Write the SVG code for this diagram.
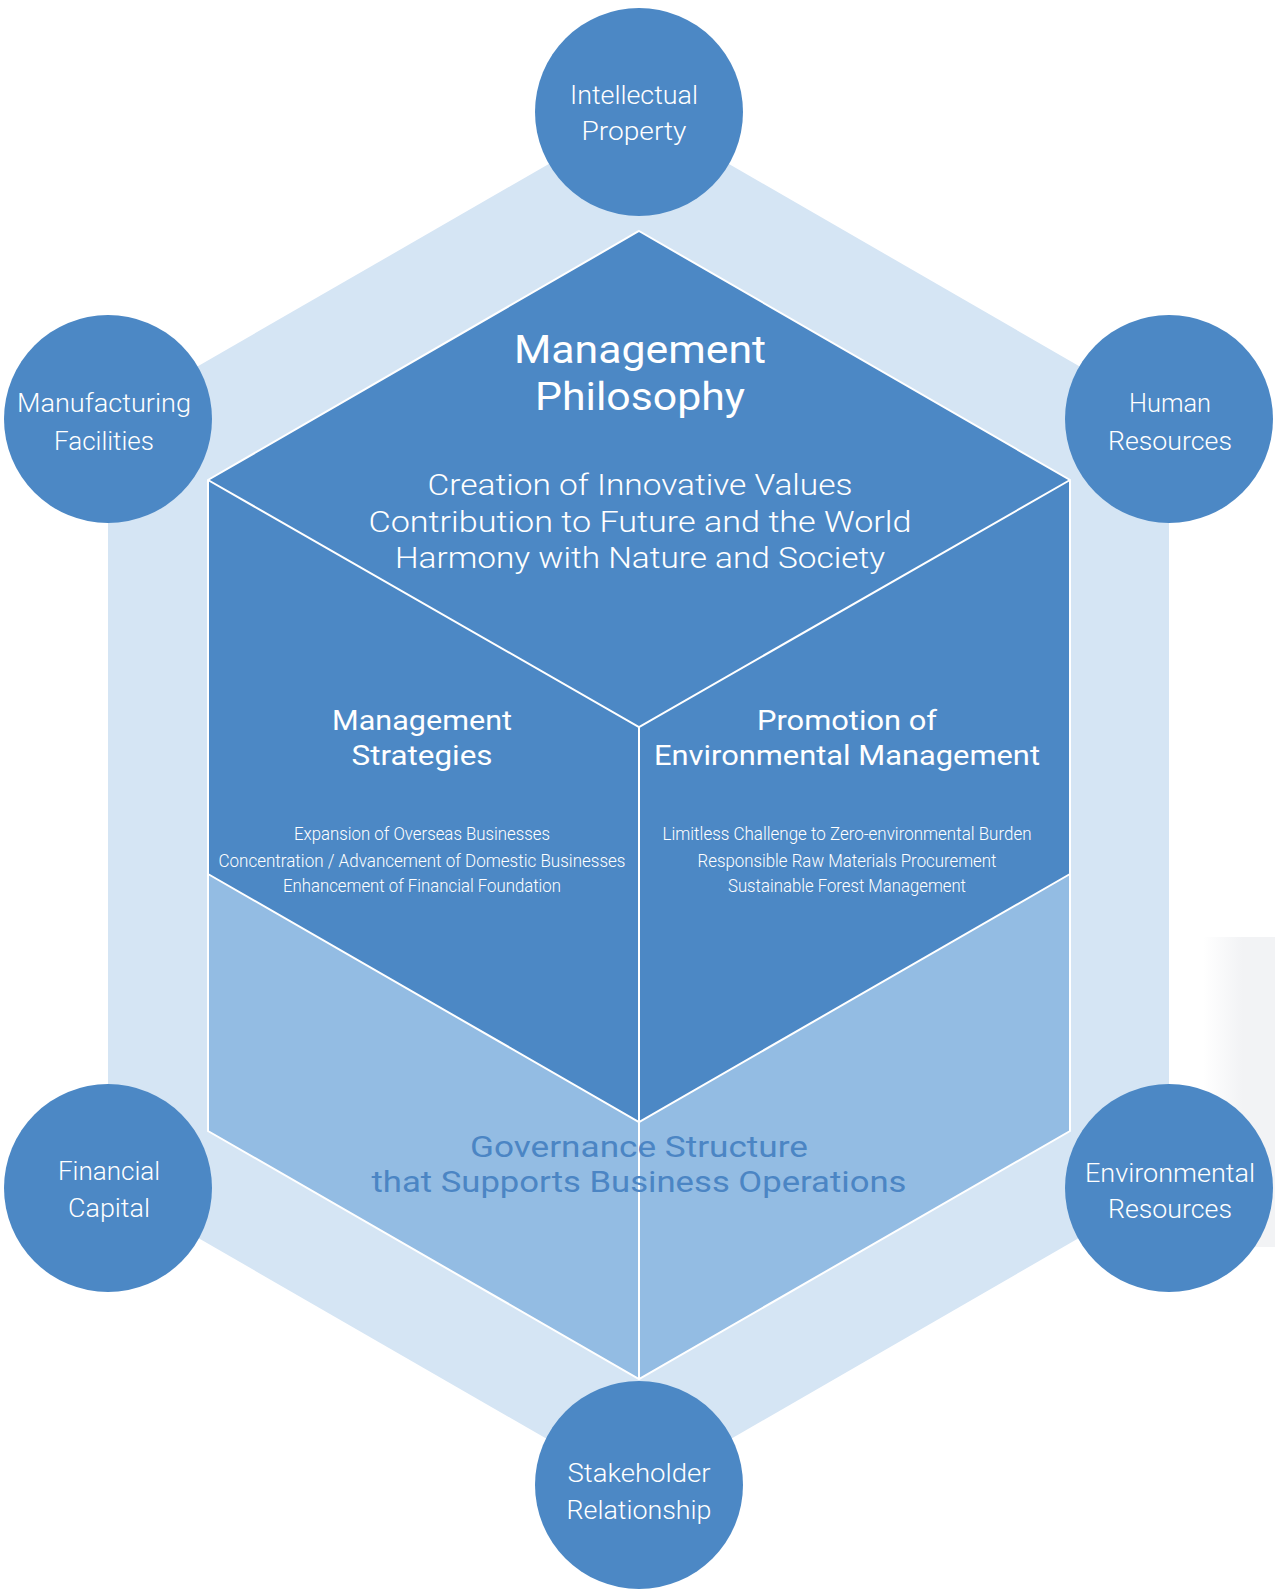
<svg xmlns="http://www.w3.org/2000/svg" width="1275" height="1591" viewBox="0 0 1275 1591">
<defs>
<linearGradient id="grayfade" x1="0" y1="0" x2="1" y2="0">
<stop offset="0" stop-color="#ffffff"/>
<stop offset="0.55" stop-color="#f2f3f5"/>
<stop offset="1" stop-color="#f2f3f5"/>
</linearGradient>
<style>
text{font-family:Roboto,"Noto Sans","Liberation Sans",sans-serif;fill:#ffffff;text-anchor:middle;font-weight:300}
.cap{font-size:26px}
.title{font-size:39px;font-weight:400}
.phil{font-size:30px}
.head{font-size:28px;font-weight:400}
.sub{font-size:19px}
.gov{font-size:29px;fill:#4b85c4;font-weight:400}
.node{fill:#4c88c5}
.wl{stroke:#ffffff;stroke-width:2;fill:none;stroke-linejoin:miter}
</style>
</defs>
<rect width="1275" height="1591" fill="#ffffff"/>
<rect x="1203" y="937" width="72" height="310" fill="url(#grayfade)"/>
<polygon points="639,112 1169,418 1169,1186 639,1492 108,1186 108,418" fill="#d5e5f4"/>
<g id="cube">
<polygon points="639,231 1070,480 1070,874 639,1122 208,874 208,480" fill="#4c88c5"/>
<polygon points="208,874 639,1122 1070,874 1070,1131 639,1379 208,1131" fill="#93bce3"/>
</g>
<g id="edges">
<polygon class="wl" points="639,231 1070,480 1070,1131 639,1379 208,1131 208,480"/>
<polyline class="wl" points="208,480 639,727 1070,480"/>
<line class="wl" x1="639" y1="727" x2="639" y2="1379"/>
<polyline class="wl" points="208,874 639,1122 1070,874"/>
</g>
<g id="philosophy">
<text class="title" x="640" y="363" textLength="252" lengthAdjust="spacingAndGlyphs">Management</text>
<text class="title" x="640" y="410" textLength="210" lengthAdjust="spacingAndGlyphs">Philosophy</text>
<text class="phil" x="640" y="495" textLength="425" lengthAdjust="spacingAndGlyphs">Creation of Innovative Values</text>
<text class="phil" x="640" y="532" textLength="543" lengthAdjust="spacingAndGlyphs">Contribution to Future and the World</text>
<text class="phil" x="640" y="568" textLength="490" lengthAdjust="spacingAndGlyphs">Harmony with Nature and Society</text>
</g>
<g id="strategies">
<text class="head" x="422" y="730" textLength="180" lengthAdjust="spacingAndGlyphs">Management</text>
<text class="head" x="422" y="765" textLength="141" lengthAdjust="spacingAndGlyphs">Strategies</text>
<text class="sub" x="422" y="840" textLength="256" lengthAdjust="spacingAndGlyphs">Expansion of Overseas Businesses</text>
<text class="sub" x="422" y="867" textLength="407" lengthAdjust="spacingAndGlyphs">Concentration / Advancement of Domestic Businesses</text>
<text class="sub" x="422" y="892" textLength="278" lengthAdjust="spacingAndGlyphs">Enhancement of Financial Foundation</text>
</g>
<g id="environmental">
<text class="head" x="847" y="730" textLength="180" lengthAdjust="spacingAndGlyphs">Promotion of</text>
<text class="head" x="847" y="765" textLength="386" lengthAdjust="spacingAndGlyphs">Environmental Management</text>
<text class="sub" x="847" y="840" textLength="369" lengthAdjust="spacingAndGlyphs">Limitless Challenge to Zero-environmental Burden</text>
<text class="sub" x="847" y="867" textLength="299" lengthAdjust="spacingAndGlyphs">Responsible Raw Materials Procurement</text>
<text class="sub" x="847" y="892" textLength="238" lengthAdjust="spacingAndGlyphs">Sustainable Forest Management</text>
</g>
<g id="governance">
<text class="gov" x="639" y="1157" textLength="338" lengthAdjust="spacingAndGlyphs">Governance Structure</text>
<text class="gov" x="639" y="1192" textLength="535" lengthAdjust="spacingAndGlyphs">that Supports Business Operations</text>
</g>
<g id="intellectual-property">
<circle class="node" cx="639" cy="112" r="104"/>
<text class="cap" x="634" y="104" textLength="128" lengthAdjust="spacingAndGlyphs">Intellectual</text>
<text class="cap" x="634" y="140" textLength="105" lengthAdjust="spacingAndGlyphs">Property</text>
</g>
<g id="human-resources">
<circle class="node" cx="1169" cy="419" r="104"/>
<text class="cap" x="1170" y="412" textLength="82" lengthAdjust="spacingAndGlyphs">Human</text>
<text class="cap" x="1170" y="450" textLength="124" lengthAdjust="spacingAndGlyphs">Resources</text>
</g>
<g id="environmental-resources">
<circle class="node" cx="1169" cy="1188" r="104"/>
<text class="cap" x="1170" y="1182" textLength="170" lengthAdjust="spacingAndGlyphs">Environmental</text>
<text class="cap" x="1170" y="1218" textLength="124" lengthAdjust="spacingAndGlyphs">Resources</text>
</g>
<g id="stakeholder-relationship">
<circle class="node" cx="639" cy="1485" r="104"/>
<text class="cap" x="639" y="1482" textLength="143" lengthAdjust="spacingAndGlyphs">Stakeholder</text>
<text class="cap" x="639" y="1519" textLength="145" lengthAdjust="spacingAndGlyphs">Relationship</text>
</g>
<g id="financial-capital">
<circle class="node" cx="108" cy="1188" r="104"/>
<text class="cap" x="109" y="1180" textLength="102" lengthAdjust="spacingAndGlyphs">Financial</text>
<text class="cap" x="109" y="1217" textLength="82" lengthAdjust="spacingAndGlyphs">Capital</text>
</g>
<g id="manufacturing-facilities">
<circle class="node" cx="108" cy="419" r="104"/>
<text class="cap" x="104" y="412" textLength="174" lengthAdjust="spacingAndGlyphs">Manufacturing</text>
<text class="cap" x="104" y="450" textLength="100" lengthAdjust="spacingAndGlyphs">Facilities</text>
</g>
</svg>
